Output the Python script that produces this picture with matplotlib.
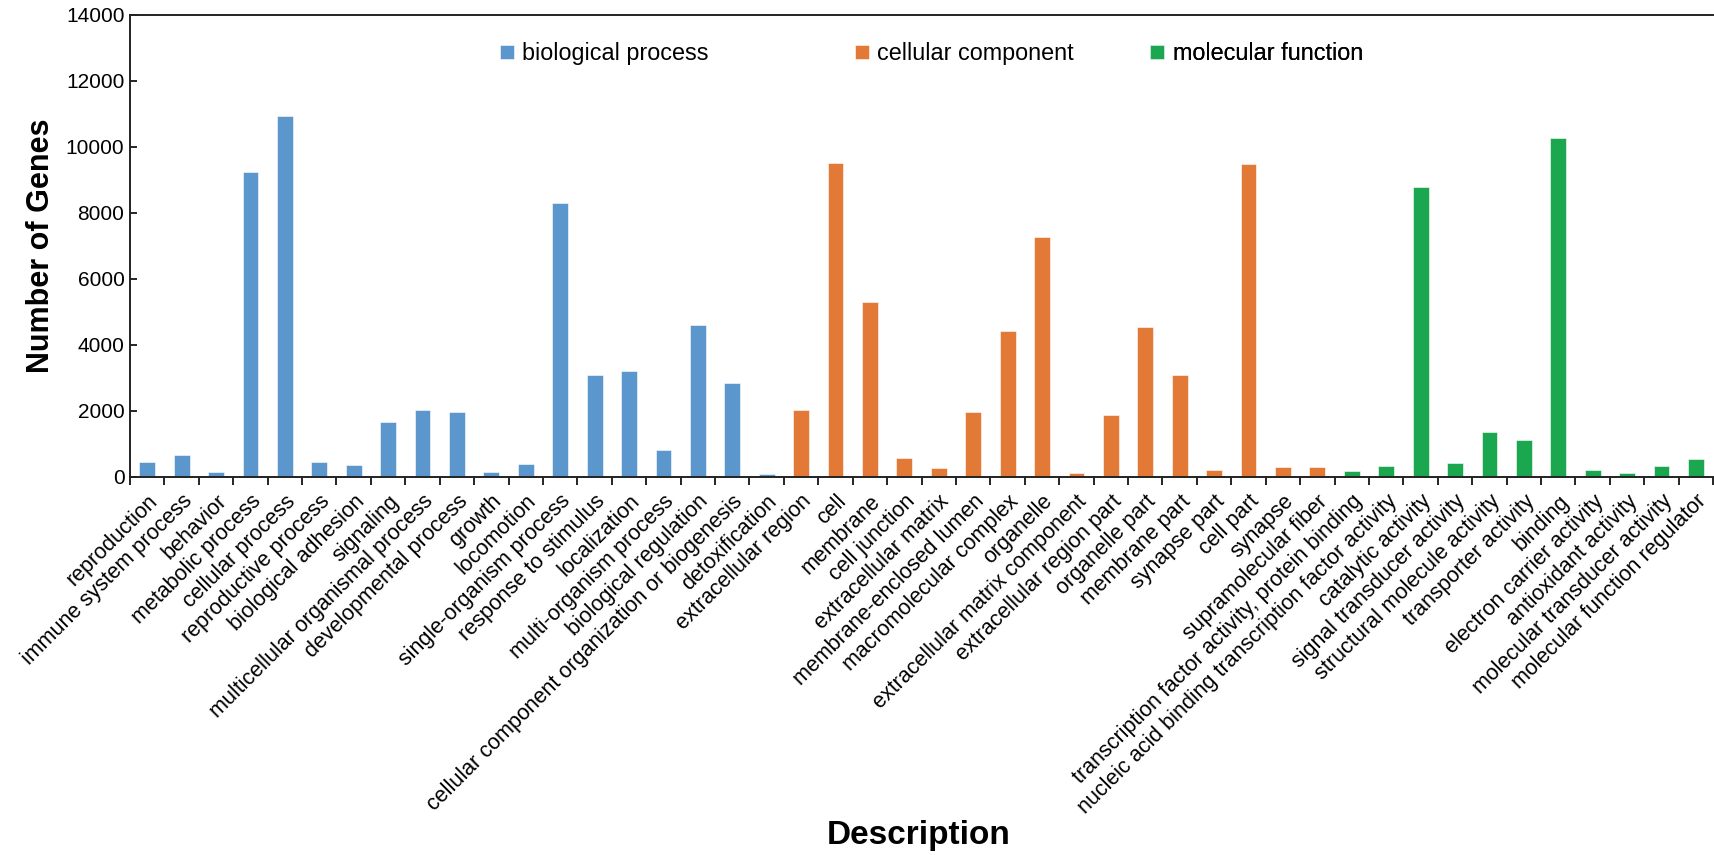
import numpy as np
import matplotlib
matplotlib.use("Agg")
import matplotlib.pyplot as plt
from matplotlib.patches import Patch

plt.rcParams['font.family'] = ['Liberation Sans', 'DejaVu Sans']

# GO categories and gene counts
bp_terms = ["reproduction", "immune system process", "behavior", "metabolic process",
            "cellular process", "reproductive process", "biological adhesion", "signaling",
            "multicellular organismal process", "developmental process", "growth",
            "locomotion", "single-organism process", "response to stimulus", "localization",
            "multi-organism process", "biological regulation",
            "cellular component organization or biogenesis", "detoxification"]
bp_counts = [460, 680, 160, 9230, 10930, 440, 360, 1680, 2040, 1960, 160,
             390, 8310, 3080, 3210, 810, 4600, 2850, 90]

cc_terms = ["extracellular region", "cell", "membrane", "cell junction",
            "extracellular matrix", "membrane-enclosed lumen", "macromolecular complex",
            "organelle", "extracellular matrix component", "extracellular region part",
            "organelle part", "membrane part", "synapse part", "cell part", "synapse",
            "supramolecular fiber"]
cc_counts = [2020, 9520, 5310, 570, 270, 1960, 4430, 7270, 120, 1870,
             4560, 3100, 220, 9470, 300, 300]

mf_terms = ["transcription factor activity, protein binding",
            "nucleic acid binding transcription factor activity", "catalytic activity",
            "signal transducer activity", "structural molecule activity",
            "transporter activity", "binding", "electron carrier activity",
            "antioxidant activity", "molecular transducer activity",
            "molecular function regulator"]
mf_counts = [190, 330, 8780, 410, 1360, 1110, 10260, 220, 110, 330, 540]

groups = ["biological process", "cellular component", "molecular function"]
group_colors = ["#5B97CC", "#E27936", "#1BA750"]

terms = bp_terms + cc_terms + mf_terms
counts = bp_counts + cc_counts + mf_counts
colors = ([group_colors[0]] * len(bp_terms) + [group_colors[1]] * len(cc_terms)
          + [group_colors[2]] * len(mf_terms))

fig = plt.figure(figsize=(17.14, 8.55), dpi=100)
ax = fig.add_axes([130 / 1714, 1 - 477 / 855, 1 - 130 / 1714 - 0.0005, (477 - 15) / 855])

x = np.arange(len(terms))
ax.bar(x, counts, width=0.46, color=colors, edgecolor="white", linewidth=0.4)

ax.set_xlim(-0.5, len(terms) - 0.5)
ax.set_ylim(0, 14000)
ax.set_yticks(np.arange(0, 14001, 2000))
ax.tick_params(axis="y", direction="in", length=5, width=1.2, labelsize=15, pad=4)

ax.set_xticks(x)
ax.set_xticklabels(terms, rotation=45, ha="right", rotation_mode="anchor", fontsize=15.5)
ax.tick_params(axis="x", which="major", length=0, pad=10)
ax.set_xticks(np.arange(-0.5, len(terms)), minor=True)
ax.tick_params(axis="x", which="minor", direction="out", length=6, width=1.2)

ax.spines["right"].set_visible(False)
for s in ["left", "bottom", "top"]:
    ax.spines[s].set_linewidth(1.4)
    ax.spines[s].set_color("#222222")

ax.set_ylabel("Number of Genes", fontsize=22, fontweight="bold", labelpad=7)
fig.text(0.536, 1 - 835 / 855, "Description", fontsize=24, fontweight="bold",
         ha="center", va="center")

# legend entries placed individually (uneven spacing as in the original)
legend_x = [0.2336, 0.458, 0.6446]
for c, g, lx in zip(group_colors, groups, legend_x):
    leg = ax.legend([Patch(facecolor=c, edgecolor="white", linewidth=0.4)], [g],
                    loc="center left", bbox_to_anchor=(lx, 0.916), frameon=False,
                    fontsize=16.8, handlelength=0.6, handleheight=0.6,
                    handletextpad=0.35, borderpad=0, borderaxespad=0)
    ax.add_artist(leg)

fig.savefig("out.png", dpi=100)
